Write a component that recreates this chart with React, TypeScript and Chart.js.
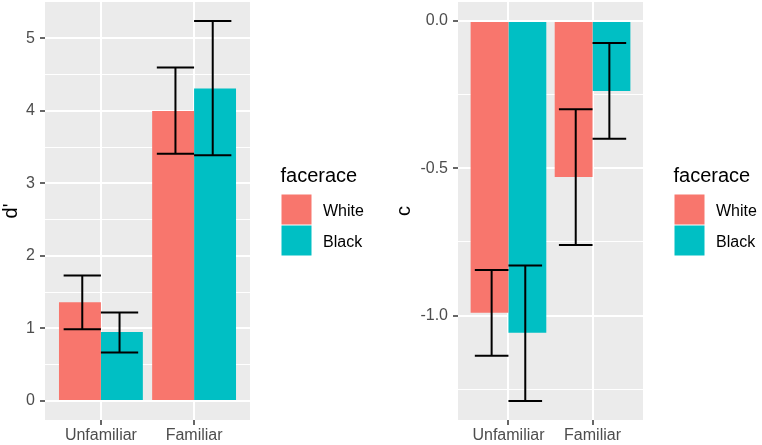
import { useEffect, useRef } from 'react';
import { Chart, registerables } from 'chart.js';

Chart.register(...registerables);

// data
const categories = ['Unfamiliar', 'Familiar'];
const races = ['White', 'Black'];
const raceColors = ['#F8766D', '#00BFC4'];

const dWhite = [1.36, 4.0];
const dWhiteLo = [0.99, 3.41];
const dWhiteHi = [1.73, 4.6];
const dBlack = [0.95, 4.31];
const dBlackLo = [0.67, 3.39];
const dBlackHi = [1.22, 5.24];

const cWhite = [-0.99, -0.53];
const cWhiteLo = [-1.136, -0.76];
const cWhiteHi = [-0.845, -0.3];
const cBlack = [-1.058, -0.238];
const cBlackLo = [-1.29, -0.4];
const cBlackHi = [-0.83, -0.075];

const dTicks = [0, 1, 2, 3, 4, 5];
const dMinor = [0.5, 1.5, 2.5, 3.5, 4.5];
const dTickLabels = ['0', '1', '2', '3', '4', '5'];
const cTicks = [0, -0.5, -1.0];
const cMinor = [-0.25, -0.75, -1.25];
const cTickLabels = ['0.0', '-0.5', '-1.0'];

const FONT = '"Liberation Sans", Arial, sans-serif';

interface PanelProps {
  title: string;
  means: number[][];
  lows: number[][];
  highs: number[][];
  ticks: number[];
  minor: number[];
  tickLabels: string[];
  axisWidth: number;
  rightPad: number;
  titlePad: number;
}

// ggplot-style 5% expansion of the data range
const expand = (vals: number[]) => {
  const lo = Math.min(0, ...vals);
  const hi = Math.max(0, ...vals);
  const r = hi - lo;
  return [lo - r * 0.05, hi + r * 0.05];
};

const panelBg = {
  id: 'panelBg',
  beforeDraw(chart: Chart) {
    const { ctx, chartArea } = chart;
    ctx.save();
    ctx.fillStyle = '#EBEBEB';
    ctx.fillRect(chartArea.left, chartArea.top, chartArea.right - chartArea.left, chartArea.bottom - chartArea.top);
    ctx.restore();
  },
};

const Panel: React.FC<PanelProps> = (p) => {
  const canvasRef = useRef<HTMLCanvasElement>(null);

  useEffect(() => {
    const ctx = canvasRef.current?.getContext('2d');
    if (!ctx) return;

    const [yMin, yMax] = expand([...p.lows.flat(), ...p.highs.flat(), ...p.means.flat()]);

    const errorBars = {
      id: 'errorBars',
      afterDatasetsDraw(chart: Chart) {
        const x = chart.scales.x;
        const y = chart.scales.y;
        const unit = x.getPixelForValue(2) - x.getPixelForValue(1);
        const c = chart.ctx;
        c.save();
        c.strokeStyle = '#000';
        c.lineWidth = 2;
        races.forEach((_, di) => {
          categories.forEach((_, i) => {
            const cx = x.getPixelForValue(i + 1) + (di - 0.5) * 0.4 * unit;
            const hw = 0.2 * unit;
            const top = y.getPixelForValue(p.highs[di][i]);
            const bot = y.getPixelForValue(p.lows[di][i]);
            c.beginPath();
            c.moveTo(cx, top);
            c.lineTo(cx, bot);
            c.moveTo(cx - hw, top);
            c.lineTo(cx + hw, top);
            c.moveTo(cx - hw, bot);
            c.lineTo(cx + hw, bot);
            c.stroke();
          });
        });
        c.restore();
      },
    };

    const legend = {
      id: 'ggLegend',
      afterDraw(chart: Chart) {
        const { chartArea } = chart;
        const c = chart.ctx;
        const mid = (chartArea.top + chartArea.bottom) / 2;
        const r = chartArea.right;
        c.save();
        c.fillStyle = '#000';
        c.textBaseline = 'alphabetic';
        c.textAlign = 'left';
        c.font = `20px ${FONT}`;
        c.fillText('facerace', r + 30.5, mid - 29.5);
        c.font = `16px ${FONT}`;
        races.forEach((race, i) => {
          c.fillStyle = raceColors[i];
          c.fillRect(r + 31.5, mid - 16.5 + i * 31, 30, 30);
          c.fillStyle = '#000';
          c.fillText(race, r + 73, mid + 5 + i * 31);
        });
        c.restore();
      },
    };

    const yAll = [...p.ticks, ...p.minor].sort((a, b) => a - b);
    const isMajor = (v: number) => p.ticks.some((t) => Math.abs(t - v) < 1e-9);

    const chart = new Chart(ctx, {
      type: 'bar',
      data: {
        datasets: races.map((race, di) => ({
          label: race,
          data: categories.map((_, i) => ({ x: i + 1, y: p.means[di][i] })),
          backgroundColor: raceColors[di],
          borderWidth: 0,
          categoryPercentage: 0.9,
          barPercentage: 1.0,
        })),
      },
      options: {
        responsive: false,
        animation: false,
        layout: { padding: { top: 2, right: p.rightPad, left: 0, bottom: 0 } },
        plugins: { legend: { display: false }, tooltip: { enabled: false } },
        scales: {
          x: {
            type: 'linear',
            min: 0.4,
            max: 2.6,
            offset: false,
            bounds: 'data',
            afterBuildTicks: (axis: any) => {
              axis.ticks = categories.map((_, i) => ({ value: i + 1 }));
            },
            afterFit: (axis: any) => {
              axis.height = 25;
              axis.paddingLeft = 0;
              axis.paddingRight = 0;
            },
            border: { display: false },
            grid: {
              offset: false,
              color: '#FFFFFF',
              lineWidth: 2,
              tickLength: 5,
              tickColor: '#333333',
              tickWidth: 1.5,
            },
            ticks: {
              autoSkip: false,
              maxRotation: 0,
              padding: 1,
              color: '#4D4D4D',
              font: { family: FONT, size: 16 },
              callback: (v: any) => categories[Number(v) - 1] ?? '',
            },
          },
          y: {
            type: 'linear',
            min: yMin,
            max: yMax,
            bounds: 'data',
            afterBuildTicks: (axis: any) => {
              axis.ticks = yAll.map((v) => ({ value: v }));
            },
            afterFit: (axis: any) => {
              axis.width = p.axisWidth;
              axis.paddingTop = 0;
              axis.paddingBottom = 0;
            },
            border: { display: false },
            grid: {
              color: '#FFFFFF',
              lineWidth: (c: any) => (isMajor(c.tick?.value) ? 2 : 1),
              tickLength: 5,
              tickColor: (c: any) => (isMajor(c.tick?.value) ? '#333333' : 'rgba(0,0,0,0)'),
              tickWidth: 1.5,
            },
            ticks: {
              autoSkip: false,
              padding: 5,
              color: '#4D4D4D',
              font: { family: FONT, size: 16 },
              callback: (v: any) => {
                const idx = p.ticks.findIndex((t) => Math.abs(t - Number(v)) < 1e-9);
                return idx >= 0 ? p.tickLabels[idx] : '';
              },
            },
            title: {
              display: true,
              text: p.title,
              color: '#000000',
              font: { family: FONT, size: 20, lineHeight: 1.1 },
              padding: { top: p.titlePad, bottom: 0 },
            },
          },
        },
      },
      plugins: [panelBg, errorBars, legend],
    });

    return () => chart.destroy();
  }, []);

  return <canvas ref={canvasRef} width={381} height={445} style={{ display: 'block' }} />;
};

export default function App() {
  return (
    <div style={{ position: 'absolute', left: 0, top: 0, width: 762, height: 445, display: 'flex', background: '#fff' }}>
      <Panel
        title="d'"
        means={[dWhite, dBlack]}
        lows={[dWhiteLo, dBlackLo]}
        highs={[dWhiteHi, dBlackHi]}
        ticks={dTicks}
        minor={dMinor}
        tickLabels={dTickLabels}
        axisWidth={45}
        rightPad={131}
        titlePad={0}
      />
      <Panel
        title="c"
        means={[cWhite, cBlack]}
        lows={[cWhiteLo, cBlackLo]}
        highs={[cWhiteHi, cBlackHi]}
        ticks={cTicks}
        minor={cMinor}
        tickLabels={cTickLabels}
        axisWidth={77}
        rightPad={119}
        titlePad={12}
      />
    </div>
  );
}
